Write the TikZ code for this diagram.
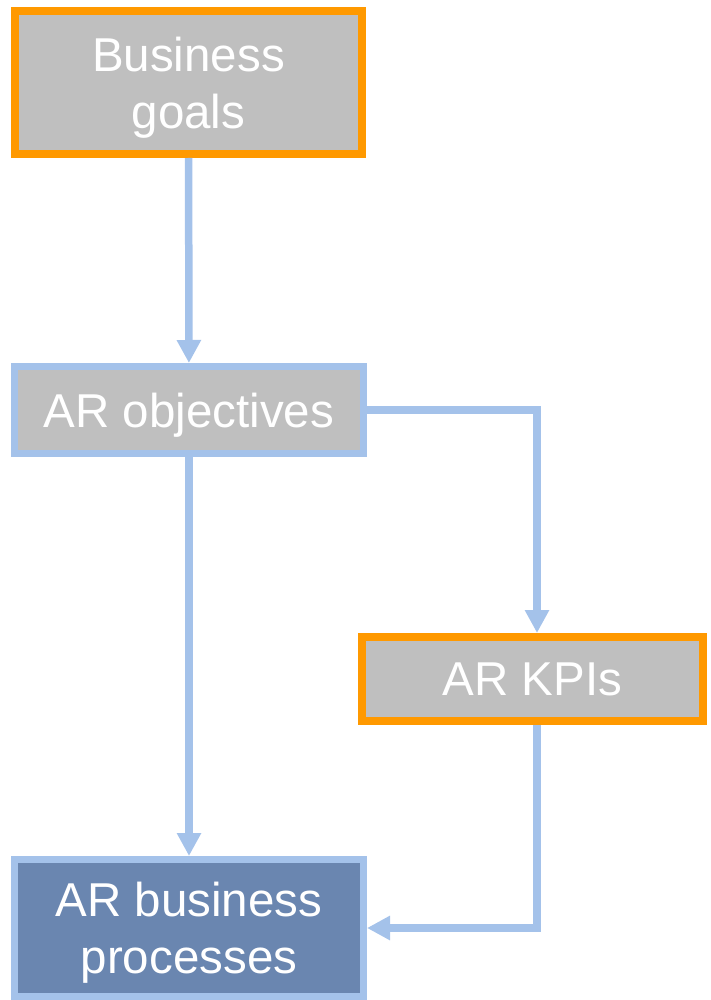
\documentclass[tikz,border=0pt]{standalone}
\usepackage{fontspec}
\setmainfont{Liberation Sans}
\usepackage{tikz}
\usetikzlibrary{arrows.meta}
\definecolor{myorange}{RGB}{255,153,0}
\definecolor{mygray}{RGB}{191,191,191}
\definecolor{mylightblue}{RGB}{164,194,234}
\definecolor{mydarkblue}{RGB}{106,134,176}
\newcommand{\boxfont}{\fontsize{47.5}{57}\selectfont}
\tikzset{
    common/.style={draw, rectangle, text=white, align=center, font=\boxfont, inner sep=0pt, text depth=0pt},
    goal/.style={common, fill=mygray, draw=myorange, line width=8pt},
    objective/.style={common, fill=mygray, draw=mylightblue, line width=7pt},
    process/.style={common, fill=mydarkblue, draw=mylightblue, line width=7pt},
    link/.style={draw=mylightblue, line width=7.5pt, -{Triangle[width=23pt, length=23pt]}},
}
\begin{document}
\begin{tikzpicture}[x=1pt, y=-1pt]
    \useasboundingbox (0,0) rectangle (711,1000);

    \node[goal, minimum width=347pt, minimum height=143pt] (goals) at (188.5,82.5) {Business\\goals};
    \node[objective, minimum width=349pt, minimum height=87pt] (objectives) at (189,410) {AR objectives};
    \node[goal, minimum width=341pt, minimum height=84pt] (kpis) at (532.5,679) {AR KPIs};
    \node[process, minimum width=349pt, minimum height=137pt] (processes) at (189,928) {AR business\\processes};

    \draw[link] (goals) -- (objectives);
    \draw[link] (objectives) -- (processes);
    \draw[link] (objectives.east) -| ([xshift=4.5pt]kpis.north);
    \draw[link] ([xshift=4.5pt]kpis.south) |- (processes.east);
\end{tikzpicture}
\end{document}
